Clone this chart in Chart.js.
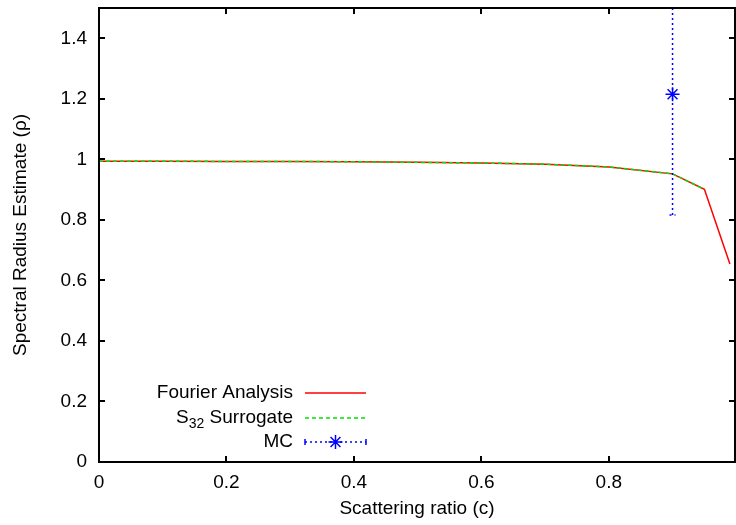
<!DOCTYPE html>
<html>
<head>
<meta charset="utf-8">
<script src="https://cdn.jsdelivr.net/npm/chart.js@4.4.1/dist/chart.umd.min.js"></script>
<style>
  html, body { margin: 0; padding: 0; background: #fff; }
  canvas { display: block; }
</style>
</head>
<body>
<canvas id="chart" width="736" height="525"></canvas>
<script>
// scattering ratio samples and spectral radius estimates
const cValues = [0, 0.1, 0.2, 0.3, 0.4, 0.5, 0.6, 0.7, 0.8, 0.9, 0.95, 0.99];
const fourierRho = [0.994, 0.994, 0.993, 0.993, 0.992, 0.990, 0.988, 0.984, 0.975, 0.952, 0.901, 0.654];
const surrogateC = [0, 0.1, 0.2, 0.3, 0.4, 0.5, 0.6, 0.7, 0.8, 0.9, 0.95];
const surrogateRho = [0.994, 0.994, 0.993, 0.993, 0.992, 0.990, 0.988, 0.984, 0.975, 0.952, 0.901];
const mcC = [0.9];
const mcRho = [1.215];
const mcErr = [0.399];

const xTicks = [0, 0.2, 0.4, 0.6, 0.8];
const yTicks = [0, 0.2, 0.4, 0.6, 0.8, 1, 1.2, 1.4];

const FONT = 'Liberation Sans, Arial, Helvetica, sans-serif';
const RED = '#ff0000', GREEN = '#00e000', BLUE = '#0000ff';

function pts(xs, ys) {
  return xs.map((x, i) => ({ x: x, y: ys[i] }));
}

// gnuplot-style frame, inward mirrored ticks, error bars and key
const gnuplotLook = {
  id: 'gnuplotLook',
  afterDatasetsDraw(chart) {
    const ctx = chart.ctx, xs = chart.scales.x, ys = chart.scales.y, a = chart.chartArea;
    ctx.save();
    ctx.beginPath();
    ctx.rect(a.left, a.top, a.right - a.left, a.bottom - a.top);
    ctx.clip();
    ctx.strokeStyle = BLUE;
    ctx.lineWidth = 1.5;
    ctx.setLineDash([2, 3]);
    mcC.forEach((c, i) => {
      const px = xs.getPixelForValue(c);
      const lo = ys.getPixelForValue(mcRho[i] - mcErr[i]);
      const hi = ys.getPixelForValue(mcRho[i] + mcErr[i]);
      ctx.beginPath();
      ctx.moveTo(px, lo);
      ctx.lineTo(px, hi);
      ctx.stroke();
      ctx.beginPath();
      ctx.moveTo(px - 3, lo);
      ctx.lineTo(px + 3, lo);
      ctx.moveTo(px - 3, hi);
      ctx.lineTo(px + 3, hi);
      ctx.stroke();
    });
    ctx.restore();
  },
  afterDraw(chart) {
    const ctx = chart.ctx, xs = chart.scales.x, ys = chart.scales.y, a = chart.chartArea;
    const tl = 6;
    ctx.save();
    ctx.strokeStyle = '#000';
    ctx.lineWidth = 2;
    ctx.setLineDash([]);
    ctx.strokeRect(a.left, a.top, a.right - a.left, a.bottom - a.top);
    ctx.beginPath();
    xTicks.forEach(v => {
      const px = Math.round(xs.getPixelForValue(v));
      ctx.moveTo(px, a.bottom); ctx.lineTo(px, a.bottom - tl);
      ctx.moveTo(px, a.top); ctx.lineTo(px, a.top + tl);
    });
    yTicks.forEach(v => {
      const py = Math.round(ys.getPixelForValue(v));
      ctx.moveTo(a.left, py); ctx.lineTo(a.left + tl, py);
      ctx.moveTo(a.right, py); ctx.lineTo(a.right - tl, py);
    });
    ctx.stroke();

    // key, bottom left
    const textRight = 293, sx0 = 305, sx1 = 366;
    const rows = [393, 418, 442];
    ctx.font = '19px ' + FONT;
    ctx.fillStyle = '#000';
    ctx.textBaseline = 'middle';
    ctx.textAlign = 'right';
    ctx.fillText('Fourier Analysis', textRight, rows[0]);
    const sw = ctx.measureText(' Surrogate').width;
    ctx.fillText(' Surrogate', textRight, rows[1]);
    ctx.font = '14px ' + FONT;
    const subW = ctx.measureText('32').width;
    ctx.fillText('32', textRight - sw, rows[1] + 6);
    ctx.font = '19px ' + FONT;
    ctx.fillText('S', textRight - sw - subW, rows[1]);
    ctx.fillText('MC', textRight, rows[2]);

    ctx.lineWidth = 1.5;
    ctx.strokeStyle = RED;
    ctx.beginPath(); ctx.moveTo(sx0, rows[0]); ctx.lineTo(sx1, rows[0]); ctx.stroke();
    ctx.strokeStyle = GREEN;
    ctx.setLineDash([4, 3]);
    ctx.beginPath(); ctx.moveTo(sx0, rows[1]); ctx.lineTo(sx1, rows[1]); ctx.stroke();
    ctx.strokeStyle = BLUE;
    ctx.setLineDash([2, 3]);
    ctx.beginPath(); ctx.moveTo(sx0, rows[2]); ctx.lineTo(sx1, rows[2]); ctx.stroke();
    ctx.setLineDash([]);
    ctx.beginPath();
    ctx.moveTo(sx0, rows[2] - 3); ctx.lineTo(sx0, rows[2] + 3);
    ctx.moveTo(sx1, rows[2] - 3); ctx.lineTo(sx1, rows[2] + 3);
    ctx.stroke();
    const cx = (sx0 + sx1) / 2, r = 7;
    ctx.beginPath();
    for (let k = 0; k < 4; k++) {
      const ang = k * Math.PI / 4;
      ctx.moveTo(cx - r * Math.cos(ang), rows[2] - r * Math.sin(ang));
      ctx.lineTo(cx + r * Math.cos(ang), rows[2] + r * Math.sin(ang));
    }
    ctx.stroke();
    ctx.restore();
  }
};

const config = {
  type: 'line',
  data: {
    datasets: [{
      label: 'Fourier Analysis',
      data: pts(cValues, fourierRho),
      borderColor: RED,
      borderWidth: 1.5,
      pointRadius: 0,
      tension: 0,
      order: 2
    }, {
      label: 'S32 Surrogate',
      data: pts(surrogateC, surrogateRho),
      borderColor: GREEN,
      borderWidth: 1.5,
      borderDash: [4, 3],
      pointRadius: 0,
      tension: 0,
      order: 1
    }, {
      label: 'MC',
      data: pts(mcC, mcRho),
      showLine: false,
      borderColor: BLUE,
      pointStyle: 'star',
      pointRadius: 7,
      pointBorderWidth: 1.5,
      pointBorderColor: BLUE,
      order: 0
    }]
  },
  options: {
    responsive: false,
    animation: false,
    layout: { autoPadding: false, padding: { top: 8, right: 1, left: 0, bottom: 0 } },
    plugins: {
      legend: { display: false },
      tooltip: { enabled: false }
    },
    scales: {
      x: {
        type: 'linear',
        min: 0,
        max: 0.998,
        grid: { display: false, drawTicks: false },
        border: { display: false },
        afterBuildTicks: s => { s.ticks = xTicks.map(v => ({ value: v })); },
        afterFit: s => { s.height = 63; s.paddingLeft = 0; s.paddingRight = 0; },
        ticks: {
          color: '#000',
          font: { family: FONT, size: 19 },
          padding: 9,
          maxRotation: 0,
          callback: v => String(v)
        },
        title: {
          display: true,
          text: 'Scattering ratio (c)',
          color: '#000',
          font: { family: FONT, size: 19 },
          padding: { top: 0, bottom: 5 }
        }
      },
      y: {
        min: 0,
        max: 1.5,
        grid: { display: false, drawTicks: false },
        border: { display: false },
        afterBuildTicks: s => { s.ticks = yTicks.map(v => ({ value: v })); },
        afterFit: s => { s.width = 99; s.paddingTop = 0; s.paddingBottom = 0; },
        ticks: {
          color: '#000',
          font: { family: FONT, size: 19 },
          padding: 12,
          callback: v => String(v)
        },
        title: {
          display: true,
          text: 'Spectral Radius Estimate (\u03c1)',
          color: '#000',
          font: { family: FONT, size: 19 },
          padding: { top: 9, bottom: 0 }
        }
      }
    }
  },
  plugins: [gnuplotLook]
};

window.onload = function() {
  const ctx = document.getElementById('chart').getContext('2d');
  window.myChart = new Chart(ctx, config);
};
</script>
</body>
</html>
